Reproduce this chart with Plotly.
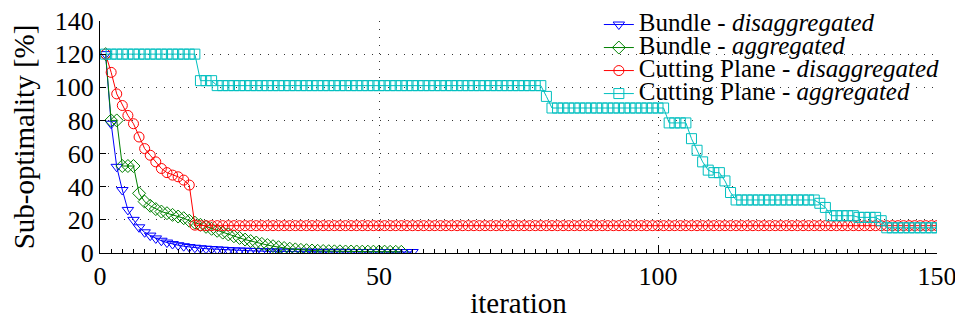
import plotly.graph_objects as go

# ---------------- data ----------------
bundle_dis = [120, 78, 52, 38, 26, 20, 15.5, 12.5, 10.5, 8.8,
              7.4, 6.3, 5.4, 4.7, 4.1, 3.6, 3.2, 2.9, 2.6, 2.4,
              2.2, 2.0, 1.8, 1.6, 1.5, 1.4, 1.3, 1.2, 1.1, 1.0,
              1.0, 0.9, 0.9, 0.9, 0.8, 0.8, 0.8, 0.8, 0.7, 0.7,
              0.7, 0.7, 0.7, 0.7, 0.6, 0.6, 0.6, 0.6, 0.6, 0.6,
              0.6, 0.6, 0.6, 0.6, 0.6, 0.6]

bundle_agg = [120, 80, 80, 52.5, 52.5, 52.5, 36, 31, 28.5, 26.5,
              25, 24, 23, 22, 21, 19.5, 18.3, 17, 15.8, 14.6,
              13.4, 12.3, 11.2, 10.1, 9.1, 8.1, 7.2, 6.3, 5.5, 4.8,
              4.1, 3.5, 3.0, 2.6, 2.2, 1.9, 1.7, 1.5, 1.3, 1.2,
              1.1, 1.0, 1.0, 0.9, 0.9, 0.9, 0.8, 0.8, 0.8, 0.8,
              0.8, 0.7, 0.7, 0.7]

cp_dis = [120, 109, 96, 89, 83, 78, 70, 63, 59, 55,
          51, 48.5, 47, 46, 44, 41, 16.8, 16.5, 16.5, 16.5,
          16.5, 16.5, 16.5, 16.5, 16.5, 16.5, 16.5, 16.5, 16.5, 16.5,
          16.5, 16.5, 16.5, 16.5, 16.5, 16.5, 16.5, 16.5, 16.5, 16.5,
          16.5, 16.5, 16.5, 16.5, 16.5, 16.5, 16.5, 16.5, 16.5, 16.5,
          16.5, 16.5, 16.5, 16.5, 16.5, 16.5, 16.5, 16.5, 16.5, 16.5,
          16.5, 16.5, 16.5, 16.5, 16.5, 16.5, 16.5, 16.5, 16.5, 16.5,
          16.5, 16.5, 16.5, 16.5, 16.5, 16.5, 16.5, 16.5, 16.5, 16.5,
          16.5, 16.5, 16.5, 16.5, 16.5, 16.5, 16.5, 16.5, 16.5, 16.5,
          16.5, 16.5, 16.5, 16.5, 16.5, 16.5, 16.5, 16.5, 16.5, 16.5,
          16.5, 16.5, 16.5, 16.5, 16.5, 16.5, 16.5, 16.5, 16.5, 16.5,
          16.5, 16.5, 16.5, 16.5, 16.5, 16.5, 16.5, 16.5, 16.5, 16.5,
          16.5, 16.5, 16.5, 16.5, 16.5, 16.5, 16.5, 16.5, 16.5, 16.5,
          16.5, 16.5, 16.5, 16.5, 16.5, 16.5, 16.5, 16.5, 16.5, 16.5,
          16.5, 16.5, 16.5, 16.5, 16.5, 16.5, 16.5, 16.5, 16.5, 16.5]

cp_agg = [120, 120, 120, 120, 120, 120, 120, 120, 120, 120,
          120, 120, 120, 120, 120, 120, 120, 104, 104, 104,
          101, 101, 101, 101, 101, 101, 101, 101, 101, 101,
          101, 101, 101, 101, 101, 101, 101, 101, 101, 101,
          101, 101, 101, 101, 101, 101, 101, 101, 101, 101,
          101, 101, 101, 101, 101, 101, 101, 101, 101, 101,
          101, 101, 101, 101, 101, 101, 101, 101, 101, 101,
          101, 101, 101, 101, 101, 101, 101, 101, 101, 94.5,
          87.5, 87.5, 87.5, 87.5, 87.5, 87.5, 87.5, 87.5, 87.5, 87.5,
          87.5, 87.5, 87.5, 87.5, 87.5, 87.5, 87.5, 87.5, 87.5, 87.5,
          87.5, 78.5, 78.5, 78.5, 78.5, 69, 62, 55, 50, 48.5,
          48.5, 43.5, 36.5, 32, 32, 32, 32, 32, 32, 32,
          32, 32, 32, 32, 32, 32, 32, 32, 30, 27.5,
          22.5, 22.5, 22.5, 22.5, 22.5, 21.5, 21.5, 21.5, 21.5, 19.5,
          15.2, 15.2, 15.2, 15.2, 15.2, 15.2, 15.2, 15.2, 15.2, 15.2]

series_names = [
    "Bundle - <i>disaggregated</i>",
    "Bundle - <i>aggregated</i>",
    "Cutting Plane - <i>disaggregated</i>",
    "Cutting Plane - <i>aggregated</i>",
]
x_ticks = [0, 50, 100, 150]
y_ticks = [0, 20, 40, 60, 80, 100, 120, 140]

# ---------------- styling ----------------
FONT = "Liberation Serif"
series = [
    (bundle_dis, "rgb(0,0,255)", "triangle-down-open"),
    (bundle_agg, "rgb(0,128,0)", "diamond-open"),
    (cp_dis, "rgb(255,0,0)", "circle-open"),
    (cp_agg, "rgb(0,191,191)", "square-open"),
]

fig = go.Figure()
for (vals, color, sym), name in zip(series, series_names):
    fig.add_trace(go.Scatter(
        x=list(range(1, len(vals) + 1)), y=vals, mode="lines+markers",
        name='<span style="font-size:25px">' + name + "</span>",
        line=dict(color=color, width=1),
        marker=dict(symbol=sym, size=10, color=color, line=dict(width=1, color=color)),
    ))

axis_common = dict(
    showline=True, linecolor="black", linewidth=1,
    ticks="inside", tickcolor="black",
    showgrid=True, gridcolor="#333", gridwidth=1, griddash="1px,7px",
    zeroline=False, mirror=False, automargin=False,
    ticklabeloverflow="allow",
    tickfont=dict(family=FONT, size=26, color="black"),
)

# page body has an 8px margin, so the figure is 8px smaller and margins shifted
fig.update_layout(
    width=955, height=316,
    margin=dict(l=92, r=26, t=13, b=71, autoexpand=False),
    paper_bgcolor="white", plot_bgcolor="white",
    font=dict(family=FONT, color="black"),
    xaxis=dict(range=[0, 150], tickvals=x_ticks, ticklen=8,
               minor=dict(ticks="inside", ticklen=4, dtick=2, tickcolor="black", showgrid=False),
               title=dict(text="iteration", font=dict(family=FONT, size=29), standoff=2),
               **axis_common),
    yaxis=dict(range=[0, 140], tickvals=y_ticks, ticklen=6,
               title=dict(text="Sub-optimality [%]", font=dict(family=FONT, size=29), standoff=12),
               **axis_common),
    legend=dict(x=0.596, y=1.056, xanchor="left", yanchor="top",
                bgcolor="rgba(0,0,0,0)", borderwidth=0,
                font=dict(family=FONT, size=15.4, color="black"),
                tracegroupgap=0),
    showlegend=True,
)

fig.write_html("out.html")
